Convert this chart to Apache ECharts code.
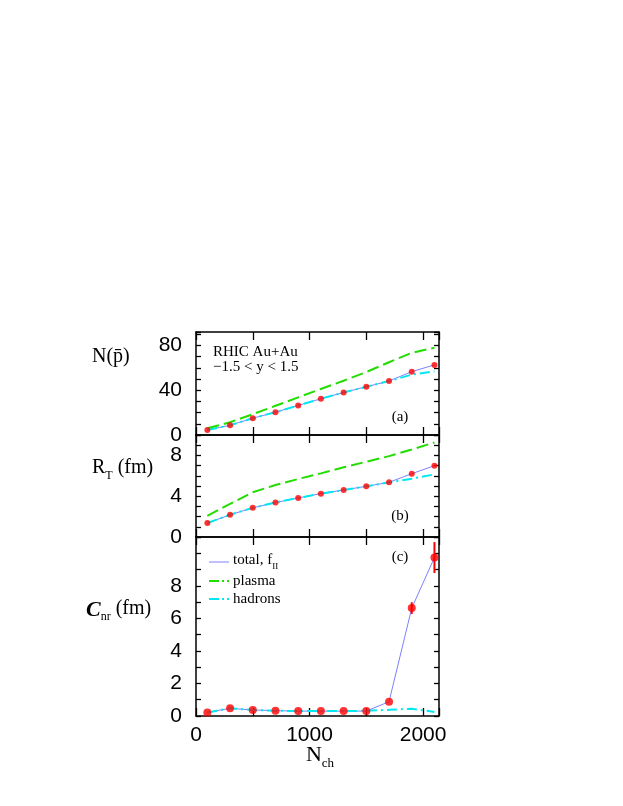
<!DOCTYPE html>
<html>
<head>
<meta charset="utf-8">
<script src="https://cdn.jsdelivr.net/npm/echarts@6/dist/echarts.min.js"></script>
<style>html,body{margin:0;padding:0;background:#fff;}#c{width:623px;height:806px;}</style>
</head>
<body>
<div id="c"></div>
<script>
const nch = [100, 300, 500, 700, 900, 1100, 1300, 1500, 1700, 1900, 2100];
// panel (a): N(pbar)
const pbarTotal  = [4.5, 8.7, 15.0, 20.4, 26.4, 32.4, 38.0, 43.1, 48.2, 56.6, 62.6];
const pbarPlasma = [6.0, 11.4, 18.6, 26.1, 33.6, 41.1, 48.5, 56.3, 65.0, 73.4, 77.9];
const pbarHadron = [4.5, 8.7, 15.0, 20.4, 26.4, 32.4, 38.0, 43.1, 48.2, 53.9, 56.9];
// panel (b): R_T (fm)
const rtTotal  = [1.37, 2.18, 2.86, 3.38, 3.83, 4.25, 4.61, 4.97, 5.36, 6.21, 6.99];
const rtPlasma = [2.08, 3.25, 4.39, 5.10, 5.69, 6.24, 6.83, 7.38, 7.93, 8.58, 9.27];
const rtHadron = [1.37, 2.18, 2.86, 3.38, 3.83, 4.25, 4.61, 4.97, 5.36, 5.72, 6.14];
// panel (c): C_nr (fm)
const cnrTotal  = [0.22, 0.47, 0.37, 0.33, 0.30, 0.30, 0.30, 0.30, 0.88, 6.63, 9.74];
const cnrErr    = [0, 0, 0, 0, 0, 0, 0, 0, 0, 0.36, 0.95];
const cnrHadron = [0.22, 0.47, 0.37, 0.33, 0.30, 0.30, 0.30, 0.32, 0.38, 0.45, 0.25];
// axis tick labels
const xTickLabels = [0, 1000, 2000];
const yTickLabelsA = [0, 40, 80];
const yTickLabelsB = [0, 4, 8];
const yTickLabelsC = [0, 2, 4, 6, 8];

const pairs = (ys) => nch.map((x, i) => [x, ys[i]]);
const SANS = 'Liberation Sans, Arial, sans-serif';
const SERIF = 'Liberation Serif, Times New Roman, serif';
const BLUE = '#8080ff', GREEN = '#22dd00', CYAN = '#00e8f0', RED = '#ff0000';

const grids = [
  {left: 196, top: 332, width: 243, height: 103},
  {left: 196, top: 435, width: 243, height: 102},
  {left: 196, top: 537, width: 243, height: 179}
];
const yCfg = [
  {max: 92, interval: 10, labels: yTickLabelsA},
  {max: 10, interval: 1, labels: yTickLabelsB},
  {max: 11, interval: 1, labels: yTickLabelsC}
];

const xAxes = [], yAxes = [];
grids.forEach((g, gi) => {
  ['bottom', 'top'].forEach(pos => {
    const showLab = gi === 2 && pos === 'bottom';
    xAxes.push({
      type: 'value', gridIndex: gi, position: pos, min: 0, max: 2140, interval: 500,
      axisLine: {show: true, onZero: false, lineStyle: {color: '#000', width: 1.5}},
      axisTick: {show: true, inside: true, length: 8, lineStyle: {color: '#000', width: 1.3}},
      axisLabel: {show: showLab, margin: 9, fontFamily: SANS, fontSize: 21, color: '#000',
        showMaxLabel: true,
        formatter: v => xTickLabels.includes(v) ? String(v) : ''},
      splitLine: {show: false}
    });
  });
  ['left', 'right'].forEach(pos => {
    const c = yCfg[gi];
    yAxes.push({
      type: 'value', gridIndex: gi, position: pos, min: 0, max: c.max, interval: c.interval,
      axisLine: {show: true, onZero: false, lineStyle: {color: '#000', width: 1.5}},
      axisTick: {show: true, inside: true, length: 5, lineStyle: {color: '#000', width: 1.3}},
      axisLabel: {show: pos === 'left', margin: 14, fontFamily: SANS, fontSize: 21, color: '#000',
        showMinLabel: true, showMaxLabel: true,
        formatter: v => c.labels.includes(v) ? String(v) : ''},
      splitLine: {show: false}
    });
  });
});

function lineSeries(gi, ys, color, width, dash, z) {
  return {
    type: 'line', xAxisIndex: gi * 2, yAxisIndex: gi * 2, data: pairs(ys),
    showSymbol: false, symbol: 'none', silent: true, z: z,
    lineStyle: {color: color, width: width, type: dash}
  };
}
function dotSeries(gi, ys, size) {
  return {
    type: 'scatter', xAxisIndex: gi * 2, yAxisIndex: gi * 2, data: pairs(ys),
    symbol: 'circle', symbolSize: size, itemStyle: {color: RED}, z: 10
  };
}
const DASH_PLASMA = [12, 5];
const DASH_HADRON = [10, 4, 2, 4];

const series = [
  lineSeries(0, pbarTotal, BLUE, 1, 'solid', 2),
  lineSeries(0, pbarHadron, CYAN, 2, DASH_HADRON, 3),
  lineSeries(0, pbarPlasma, GREEN, 2, DASH_PLASMA, 3),
  dotSeries(0, pbarTotal, 6),
  lineSeries(1, rtTotal, BLUE, 1, 'solid', 2),
  lineSeries(1, rtHadron, CYAN, 2, DASH_HADRON, 3),
  lineSeries(1, rtPlasma, GREEN, 2, DASH_PLASMA, 3),
  dotSeries(1, rtTotal, 6),
  lineSeries(2, cnrTotal, BLUE, 1, 'solid', 2),
  lineSeries(2, cnrHadron, CYAN, 2, DASH_HADRON, 3),
  {
    type: 'custom', xAxisIndex: 4, yAxisIndex: 4, z: 9,
    data: nch.map((x, i) => [x, cnrTotal[i] - cnrErr[i], cnrTotal[i] + cnrErr[i]]).filter(d => d[2] > d[1]),
    encode: {x: 0, y: [1, 2]},
    renderItem: (params, api) => {
      const lo = api.coord([api.value(0), api.value(1)]);
      const hi = api.coord([api.value(0), api.value(2)]);
      return {type: 'line', shape: {x1: lo[0], y1: lo[1], x2: hi[0], y2: hi[1]},
        style: {stroke: RED, lineWidth: 2}};
    }
  },
  dotSeries(2, cnrTotal, 8)
];

const txt = (x, y, text, opts) => Object.assign({
  type: 'text', x: x, y: y, z: 100,
  style: Object.assign({text: text, fill: '#000', font: '15px ' + SERIF, textVerticalAlign: 'middle'}, opts || {})
});
const legLine = (y, color, dash, w) => ({
  type: 'line', z: 100, shape: {x1: 209, y1: y, x2: 229, y2: y},
  style: {stroke: color, lineWidth: w, lineDash: dash}
});

const graphic = [
  txt(213, 352, 'RHIC Au+Au'),
  txt(213, 367, '\u22121.5 < y < 1.5'),
  txt(400, 417, '(a)', {textAlign: 'center'}),
  txt(400, 516, '(b)', {textAlign: 'center'}),
  txt(400, 557, '(c)', {textAlign: 'center'}),
  // legend
  legLine(562, BLUE, null, 1),
  legLine(581, GREEN, [10, 3, 2, 3], 2),
  legLine(599, CYAN, [10, 3, 2, 3], 2),
  txt(233, 562, '{t|total, f}{s|II}', {rich: {
    t: {fontFamily: SERIF, fontSize: 15, fill: '#000', verticalAlign: 'top', lineHeight: 18},
    s: {fontFamily: SERIF, fontSize: 9, fill: '#000', verticalAlign: 'top', lineHeight: 18, padding: [9, 0, 0, 0]}
  }}),
  txt(233, 581, 'plasma'),
  txt(233, 599, 'hadrons'),
  // axis titles
  txt(92, 357, 'N(p\u0304)', {font: '20px ' + SERIF}),
  txt(92, 470, '{t|R}{s|T}{t| (fm)}', {rich: {
    t: {fontFamily: SERIF, fontSize: 20, fill: '#000', verticalAlign: 'top', lineHeight: 24},
    s: {fontFamily: SERIF, fontSize: 12, fill: '#000', verticalAlign: 'top', lineHeight: 24, padding: [12, 0, 0, 0]}
  }}),
  txt(86, 611, '{c|C}{s|nr}{t| (fm)}', {rich: {
    c: {fontFamily: SERIF, fontSize: 22, fontWeight: 'bold', fontStyle: 'italic', fill: '#000', verticalAlign: 'top', lineHeight: 24},
    t: {fontFamily: SERIF, fontSize: 20, fill: '#000', verticalAlign: 'top', lineHeight: 24},
    s: {fontFamily: SERIF, fontSize: 12, fill: '#000', verticalAlign: 'top', lineHeight: 24, padding: [12, 0, 0, 0]}
  }}),
  txt(320, 757, '{t|N}{s|ch}', {textAlign: 'center', rich: {
    t: {fontFamily: SERIF, fontSize: 22, fill: '#000', verticalAlign: 'top', lineHeight: 26},
    s: {fontFamily: SERIF, fontSize: 13, fill: '#000', verticalAlign: 'top', lineHeight: 26, padding: [13, 0, 0, 0]}
  }})
];

const chart = echarts.init(document.getElementById('c'), null, {renderer: 'canvas'});
chart.setOption({
  animation: false,
  backgroundColor: '#fff',
  grid: grids,
  xAxis: xAxes,
  yAxis: yAxes,
  series: series,
  graphic: graphic
});
</script>
</body>
</html>
